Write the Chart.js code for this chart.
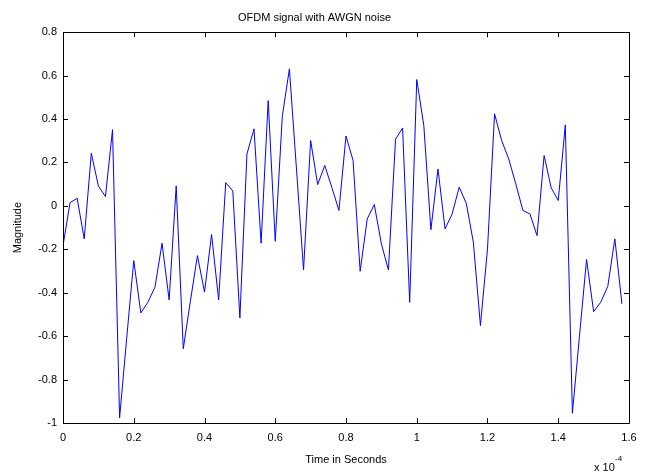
<!DOCTYPE html>
<html>
<head>
<meta charset="utf-8">
<script src="https://cdn.jsdelivr.net/npm/chart.js@4/dist/chart.umd.min.js"></script>
<style>
  html, body { margin: 0; padding: 0; background: #fff; }
  #wrap { width: 649px; height: 473px; position: relative; }
</style>
</head>
<body>
<div id="wrap"><canvas id="c" width="649" height="473"></canvas></div>
<script>
// Time in units of 1e-4 seconds
const timeE4 = [0.00,0.02,0.04,0.06,0.08,0.10,0.12,0.14,0.16,0.18,
  0.20,0.22,0.24,0.26,0.28,0.30,0.32,0.34,0.36,0.38,
  0.40,0.42,0.44,0.46,0.48,0.50,0.52,0.54,0.56,0.58,
  0.60,0.62,0.64,0.66,0.68,0.70,0.72,0.74,0.76,0.78,
  0.80,0.82,0.84,0.86,0.88,0.90,0.92,0.94,0.96,0.98,
  1.00,1.02,1.04,1.06,1.08,1.10,1.12,1.14,1.16,1.18,
  1.20,1.22,1.24,1.26,1.28,1.30,1.32,1.34,1.36,1.38,
  1.40,1.42,1.44,1.46,1.48,1.50,1.52,1.54,1.56,1.58];
const magnitude = [-0.183,0.015,0.035,-0.152,0.242,0.092,0.043,0.351,-0.976,-0.61,
  -0.252,-0.493,-0.444,-0.374,-0.172,-0.433,0.092,-0.658,-0.44,-0.229,
  -0.397,-0.132,-0.433,0.107,0.069,-0.516,0.239,0.355,-0.172,0.485,
  -0.163,0.413,0.631,0.17,-0.295,0.301,0.098,0.186,0.085,-0.021,
  0.322,0.209,-0.301,-0.060,0.006,-0.175,-0.295,0.307,0.359,-0.444,
  0.582,0.370,-0.110,0.170,-0.106,-0.037,0.086,0.012,-0.167,-0.551,
  -0.198,0.424,0.301,0.216,0.101,-0.021,-0.037,-0.137,0.232,0.083,
  0.025,0.373,-0.955,-0.6,-0.247,-0.487,-0.444,-0.371,-0.152,-0.451];
const xTicks = [0,0.2,0.4,0.6,0.8,1.0,1.2,1.4,1.6];
const yTicks = [-1,-0.8,-0.6,-0.4,-0.2,0,0.2,0.4,0.6,0.8];

const FONT = "'Liberation Sans', Arial, sans-serif";

const boxPlugin = {
  id: 'matlabBox',
  afterDatasetsDraw(chart) {
    const {ctx, chartArea: a, scales} = chart;
    ctx.save();
    ctx.strokeStyle = '#000';
    ctx.lineWidth = 1;
    ctx.beginPath();
    ctx.rect(Math.round(a.left) + 0.5, Math.round(a.top) + 0.5,
             Math.round(a.right - a.left), Math.round(a.bottom - a.top));
    ctx.stroke();
    const L = 5;
    ctx.beginPath();
    xTicks.forEach(v => {
      const x = Math.round(scales.x.getPixelForValue(v)) + 0.5;
      ctx.moveTo(x, a.bottom); ctx.lineTo(x, a.bottom - L);
      ctx.moveTo(x, a.top); ctx.lineTo(x, a.top + L);
    });
    yTicks.forEach(v => {
      const y = Math.round(scales.y.getPixelForValue(v)) + 0.5;
      ctx.moveTo(a.left, y); ctx.lineTo(a.left + L, y);
      ctx.moveTo(a.right, y); ctx.lineTo(a.right - L, y);
    });
    ctx.stroke();
    // exponent label
    ctx.fillStyle = '#000';
    ctx.font = '11px ' + FONT;
    ctx.textBaseline = 'alphabetic';
    ctx.textAlign = 'left';
    ctx.fillText('x 10', a.right - 35, a.bottom + 48);
    ctx.font = '8px ' + FONT;
    ctx.fillText('-4', a.right - 14, a.bottom + 38);
    ctx.restore();
  }
};

new Chart(document.getElementById('c'), {
  type: 'line',
  data: {
    datasets: [{
      data: timeE4.map((t, i) => ({x: t, y: magnitude[i]})),
      borderColor: '#0000ff',
      borderWidth: 1,
      pointRadius: 0,
      tension: 0,
      fill: false
    }]
  },
  options: {
    responsive: false,
    animation: false,
    events: [],
    layout: { padding: { left: 0, right: 20, top: 0, bottom: 0 } },
    plugins: {
      legend: { display: false },
      tooltip: { enabled: false },
      title: {
        display: true,
        text: 'OFDM signal with AWGN noise',
        color: '#000',
        font: { family: FONT, size: 11, weight: 'normal' },
        padding: { top: 11, bottom: 8 }
      }
    },
    scales: {
      x: {
        type: 'linear',
        min: 0, max: 1.6,
        afterBuildTicks: s => { s.ticks = xTicks.map(v => ({value: v})); },
        afterFit: s => { s.height = 50; },
        grid: { display: false, drawTicks: false },
        border: { display: false },
        ticks: {
          color: '#000', padding: 8, maxRotation: 0,
          font: { family: FONT, size: 11 },
          callback: v => String(Math.round(v * 10) / 10)
        },
        title: {
          display: true, text: 'Time in Seconds', color: '#000',
          font: { family: FONT, size: 11 },
          padding: { top: 0, bottom: 6 }
        }
      },
      y: {
        type: 'linear',
        min: -1, max: 0.8,
        afterBuildTicks: s => { s.ticks = yTicks.map(v => ({value: v})); },
        afterFit: s => { s.width = 63; },
        grid: { display: false, drawTicks: false },
        border: { display: false },
        ticks: {
          color: '#000', padding: 6,
          font: { family: FONT, size: 11 },
          callback: v => String(Math.round(v * 10) / 10)
        },
        title: {
          display: true, text: 'Magnitude', color: '#000',
          font: { family: FONT, size: 11 },
          padding: { top: 11, bottom: 0 }
        }
      }
    }
  },
  plugins: [boxPlugin]
});
</script>
</body>
</html>
